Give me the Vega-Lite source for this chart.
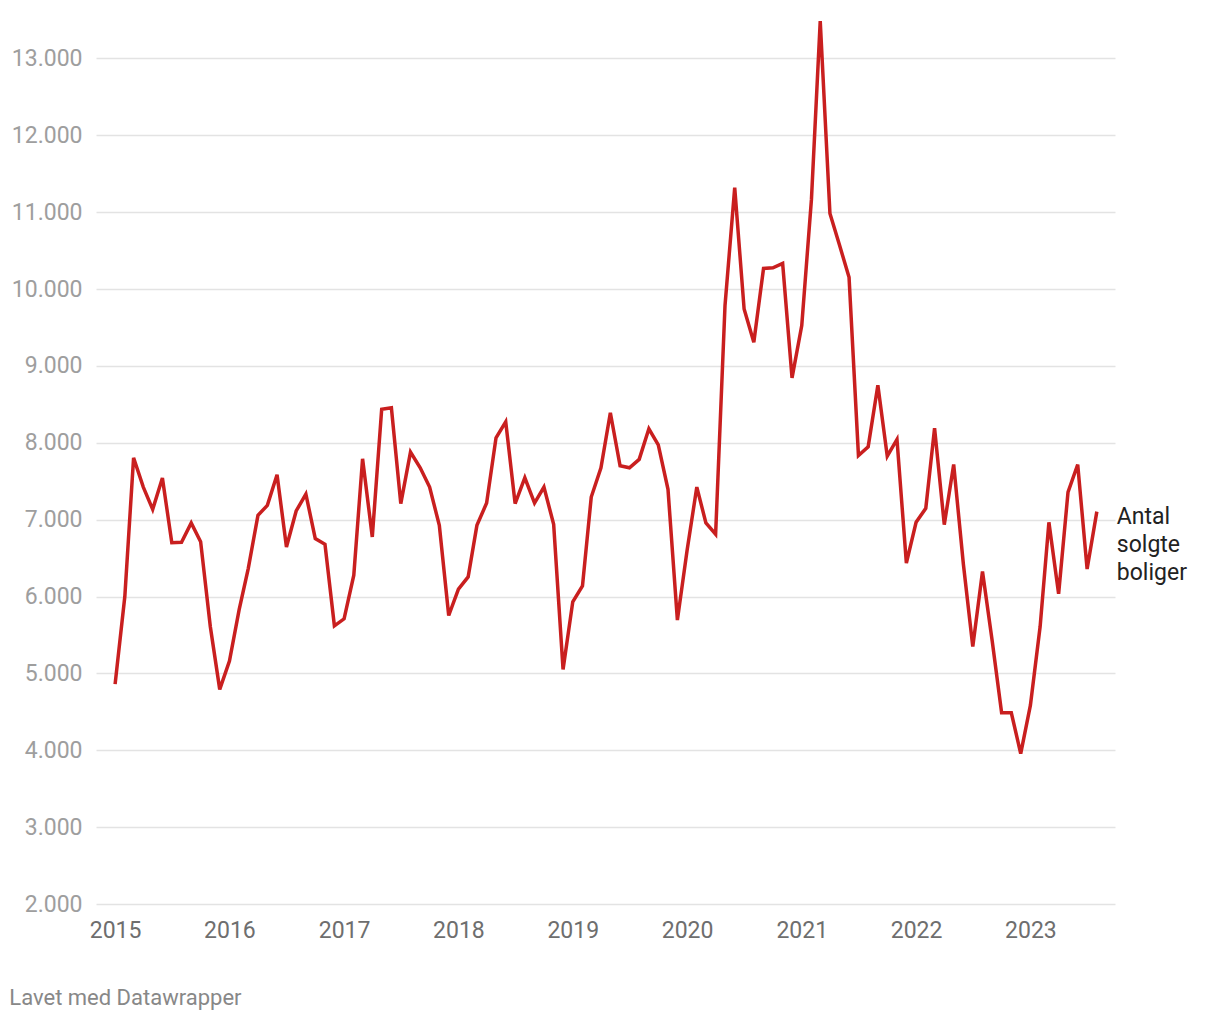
{
  "$schema": "https://vega.github.io/schema/vega-lite/v6.json",
  "autosize": {"type": "none"},
  "width": 1019,
  "height": 884,
  "padding": {"left": 96, "top": 20, "right": 105, "bottom": 116},
  "background": "#ffffff",
  "title": {
    "text": "Lavet med Datawrapper",
    "orient": "bottom",
    "anchor": "start",
    "frame": "bounds",
    "font": "Roboto",
    "fontSize": 22,
    "fontWeight": "normal",
    "color": "#888888",
    "baseline": "alphabetic",
    "offset": 63,
    "dx": -2
  },
  "data": {
    "values": [
      {"date": "2015-01-01", "value": 4860},
      {"date": "2015-02-01", "value": 6000},
      {"date": "2015-03-01", "value": 7805},
      {"date": "2015-04-01", "value": 7424},
      {"date": "2015-05-01", "value": 7134},
      {"date": "2015-06-01", "value": 7541},
      {"date": "2015-07-01", "value": 6701},
      {"date": "2015-08-01", "value": 6705},
      {"date": "2015-09-01", "value": 6957},
      {"date": "2015-10-01", "value": 6714},
      {"date": "2015-11-01", "value": 5606},
      {"date": "2015-12-01", "value": 4792},
      {"date": "2016-01-01", "value": 5160},
      {"date": "2016-02-01", "value": 5830},
      {"date": "2016-03-01", "value": 6364},
      {"date": "2016-04-01", "value": 7056},
      {"date": "2016-05-01", "value": 7186},
      {"date": "2016-06-01", "value": 7584},
      {"date": "2016-07-01", "value": 6645},
      {"date": "2016-08-01", "value": 7113},
      {"date": "2016-09-01", "value": 7333},
      {"date": "2016-10-01", "value": 6753},
      {"date": "2016-11-01", "value": 6680},
      {"date": "2016-12-01", "value": 5619},
      {"date": "2017-01-01", "value": 5710},
      {"date": "2017-02-01", "value": 6277},
      {"date": "2017-03-01", "value": 7792},
      {"date": "2017-04-01", "value": 6775},
      {"date": "2017-05-01", "value": 8437},
      {"date": "2017-06-01", "value": 8455},
      {"date": "2017-07-01", "value": 7208},
      {"date": "2017-08-01", "value": 7879},
      {"date": "2017-09-01", "value": 7675},
      {"date": "2017-10-01", "value": 7424},
      {"date": "2017-11-01", "value": 6926},
      {"date": "2017-12-01", "value": 5753},
      {"date": "2018-01-01", "value": 6095},
      {"date": "2018-02-01", "value": 6255},
      {"date": "2018-03-01", "value": 6926},
      {"date": "2018-04-01", "value": 7216},
      {"date": "2018-05-01", "value": 8065},
      {"date": "2018-06-01", "value": 8273},
      {"date": "2018-07-01", "value": 7208},
      {"date": "2018-08-01", "value": 7545},
      {"date": "2018-09-01", "value": 7216},
      {"date": "2018-10-01", "value": 7424},
      {"date": "2018-11-01", "value": 6939},
      {"date": "2018-12-01", "value": 5052},
      {"date": "2019-01-01", "value": 5931},
      {"date": "2019-02-01", "value": 6139},
      {"date": "2019-03-01", "value": 7294},
      {"date": "2019-04-01", "value": 7675},
      {"date": "2019-05-01", "value": 8390},
      {"date": "2019-06-01", "value": 7701},
      {"date": "2019-07-01", "value": 7675},
      {"date": "2019-08-01", "value": 7784},
      {"date": "2019-09-01", "value": 8182},
      {"date": "2019-10-01", "value": 7974},
      {"date": "2019-11-01", "value": 7394},
      {"date": "2019-12-01", "value": 5693},
      {"date": "2020-01-01", "value": 6602},
      {"date": "2020-02-01", "value": 7424},
      {"date": "2020-03-01", "value": 6957},
      {"date": "2020-04-01", "value": 6810},
      {"date": "2020-05-01", "value": 9784},
      {"date": "2020-06-01", "value": 11320},
      {"date": "2020-07-01", "value": 9740},
      {"date": "2020-08-01", "value": 9307},
      {"date": "2020-09-01", "value": 10268},
      {"date": "2020-10-01", "value": 10277},
      {"date": "2020-11-01", "value": 10333},
      {"date": "2020-12-01", "value": 8844},
      {"date": "2021-01-01", "value": 9524},
      {"date": "2021-02-01", "value": 11169},
      {"date": "2021-03-01", "value": 13485},
      {"date": "2021-04-01", "value": 10983},
      {"date": "2021-05-01", "value": 10580},
      {"date": "2021-06-01", "value": 10152},
      {"date": "2021-07-01", "value": 7835},
      {"date": "2021-08-01", "value": 7948},
      {"date": "2021-09-01", "value": 8748},
      {"date": "2021-10-01", "value": 7826},
      {"date": "2021-11-01", "value": 8043},
      {"date": "2021-12-01", "value": 6435},
      {"date": "2022-01-01", "value": 6965},
      {"date": "2022-02-01", "value": 7148},
      {"date": "2022-03-01", "value": 8191},
      {"date": "2022-04-01", "value": 6935},
      {"date": "2022-05-01", "value": 7717},
      {"date": "2022-06-01", "value": 6420},
      {"date": "2022-07-01", "value": 5348},
      {"date": "2022-08-01", "value": 6326},
      {"date": "2022-09-01", "value": 5422},
      {"date": "2022-10-01", "value": 4487},
      {"date": "2022-11-01", "value": 4487},
      {"date": "2022-12-01", "value": 3957},
      {"date": "2023-01-01", "value": 4587},
      {"date": "2023-02-01", "value": 5609},
      {"date": "2023-03-01", "value": 6965},
      {"date": "2023-04-01", "value": 6035},
      {"date": "2023-05-01", "value": 7357},
      {"date": "2023-06-01", "value": 7717},
      {"date": "2023-07-01", "value": 6357},
      {"date": "2023-08-01", "value": 7104}
    ]
  },
  "encoding": {
    "x": {
      "field": "date",
      "type": "temporal",
      "scale": {
        "type": "utc",
        "domain": [
          {"year": 2014, "month": 11, "date": 1, "utc": true},
          {"year": 2023, "month": 9, "date": 28, "utc": true}
        ]
      },
      "axis": {
        "title": null,
        "format": "%Y",
        "formatType": "utc",
        "tickCount": {"interval": "year", "step": 1},
        "grid": false,
        "domain": false,
        "ticks": false,
        "labelPadding": 15,
        "labelFont": "Roboto",
        "labelFontSize": 23,
        "labelColor": "#6e6e6e",
        "labelBaseline": "top",
        "labelFlush": false,
        "labelOverlap": false
      }
    },
    "y": {
      "field": "value",
      "type": "quantitative",
      "scale": {"domain": [2000, 13500], "nice": false, "zero": false},
      "axis": {
        "title": null,
        "values": [2000, 3000, 4000, 5000, 6000, 7000, 8000, 9000, 10000, 11000, 12000, 13000],
        "labelExpr": "replace(format(datum.value, ','), ',', '.')",
        "grid": true,
        "gridColor": "#e3e3e3",
        "gridWidth": 1.5,
        "domain": false,
        "ticks": false,
        "labelPadding": 14,
        "labelFont": "Roboto",
        "labelFontSize": 23,
        "labelColor": "#9e9e9e",
        "labelBaseline": "middle"
      }
    }
  },
  "layer": [
    {
      "mark": {"type": "line", "color": "#c91f1f", "strokeWidth": 3.5, "strokeJoin": "miter", "clip": false}
    },
    {
      "transform": [{"filter": "utcyear(datum.date) == 2023 && utcmonth(datum.date) == 7"}],
      "mark": {
        "type": "text",
        "text": ["Antal", "solgte", "boliger"],
        "align": "left",
        "baseline": "alphabetic",
        "dx": 20,
        "dy": 12,
        "font": "Roboto",
        "fontSize": 23,
        "lineHeight": 28.3,
        "color": "#222222"
      }
    }
  ],
  "config": {
    "view": {"stroke": null}
  }
}
